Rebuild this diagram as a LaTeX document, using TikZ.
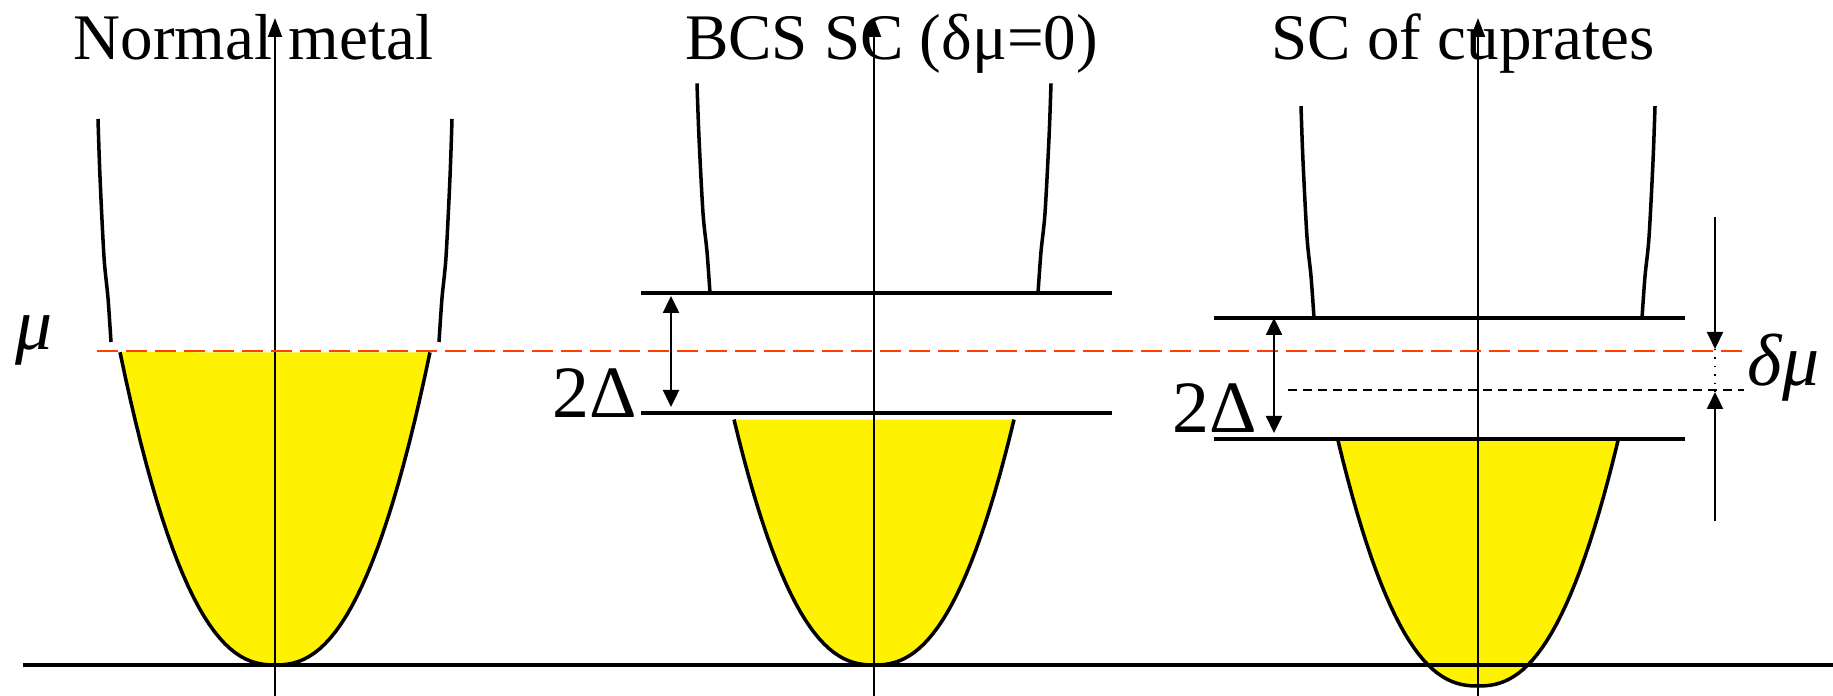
\documentclass[tikz,border=0pt]{standalone}
\usepackage{fontspec}
\setmainfont{Liberation Serif}
\usetikzlibrary{arrows.meta}
\definecolor{mured}{RGB}{255,64,0}
\tikzset{
  band/.style={line width=1pt},
  level/.style={line width=1pt},
  axis/.style={line width=0.6pt,-{Triangle[length=1.9mm,width=1.4mm]}},
  gaparrow/.style={line width=0.7pt,{Triangle[length=1.7mm,width=1.6mm]}-{Triangle[length=1.7mm,width=1.6mm]}},
  shiftarrow/.style={line width=0.6pt,-{Triangle[length=1.7mm,width=1.6mm]}},
  title/.style={font=\fontsize{18.5}{20}\selectfont,anchor=base,inner sep=0pt},
  lbl/.style={font=\fontsize{21}{24}\selectfont,inner sep=0pt}
}
\begin{document}
\begin{tikzpicture}
  \useasboundingbox (0,0) rectangle (18.33,6.96);
  \foreach \cx/\yb/\w in {2.75/0.31/1.55, 8.74/0.31/1.40, 14.78/0.10/1.40} {
    \fill[yellow,shift={(\cx,\yb)}] plot[domain=-\w:\w,samples=60] (\x,{(abs(\x)/0.96)^2.381}) -- cycle;
    \draw[band,shift={(\cx,\yb)}] plot[domain=-\w:\w,samples=60] (\x,{(abs(\x)/0.96)^2.381});
  }
  \foreach \cx/\yb/\s in {2.75/3.54/1, 8.74/4.03/0.94, 14.78/3.78/0.95}
    \foreach \sd in {-1,1}
      \draw[band,shift={(\cx,\yb)},xscale=\sd,yscale=\s] plot[smooth] coordinates {(1.64,0) (1.67,0.44) (1.71,0.85) (1.75,1.65) (1.77,2.23)};

  \coordinate (base0) at (0.23,0.31);
  \coordinate (base1) at (18.33,0.31);
  \coordinate (n0) at (2.75,0);
  \coordinate (n1) at (2.75,6.78);
  \coordinate (b0) at (8.74,0);
  \coordinate (b1) at (8.74,6.78);
  \coordinate (c0) at (14.78,0);
  \coordinate (c1) at (14.78,6.78);
  \coordinate (mu0) at (0.97,3.45);
  \coordinate (mu1) at (17.44,3.45);
  \coordinate (bup0) at (6.41,4.03);
  \coordinate (bup1) at (11.12,4.03);
  \coordinate (blo0) at (6.41,2.83);
  \coordinate (blo1) at (11.12,2.83);
  \coordinate (cup0) at (12.14,3.78);
  \coordinate (cup1) at (16.85,3.78);
  \coordinate (clo0) at (12.14,2.57);
  \coordinate (clo1) at (16.85,2.57);
  \coordinate (cmid0) at (12.88,3.06);
  \coordinate (cmid1) at (17.44,3.06);
  \coordinate (bgapu) at (6.71,4.03);
  \coordinate (bgapl) at (6.71,2.83);
  \coordinate (cgapu) at (12.74,3.78);
  \coordinate (cgapl) at (12.74,2.57);
  \coordinate (dm0) at (17.15,4.79);
  \coordinate (dm1) at (17.15,3.47);
  \coordinate (dm2) at (17.15,3.04);
  \coordinate (dm3) at (17.15,1.75);

  \node[title] (tN) at (2.535,6.36) {Normal metal};
  \node[title] (tB) at (8.915,6.36) {BCS SC (δμ=0)};
  \node[title] (tC) at (14.63,6.36) {SC of cuprates};
  \node[lbl,anchor=base] (mu) at (0.34,3.46) {\textit{μ}};
  \node[lbl,anchor=base east] (gB) at (6.38,2.78) {2Δ};
  \node[lbl,anchor=base east] (gC) at (12.58,2.63) {2Δ};
  \node[lbl,anchor=base west] (dmu) at (17.47,3.10) {\textit{δμ}};

  \draw[line width=1pt] (base0) -- (base1);
  \draw[axis] (n0) -- (n1);
  \draw[axis] (b0) -- (b1);
  \draw[axis] (c0) -- (c1);
  \draw[mured,line width=0.6pt,dash pattern=on 0.21cm off 0.08cm] (mu0) -- (mu1);
  \draw[level] (bup0) -- (bup1) (blo0) -- (blo1);
  \draw[level] (cup0) -- (cup1) (clo0) -- (clo1);
  \draw[line width=0.8pt,dash pattern=on 0.09cm off 0.06cm] (cmid0) -- (cmid1);
  \draw[gaparrow,shorten <=0.3mm,shorten >=0.6mm] (bgapu) -- (bgapl);
  \draw[gaparrow,shorten >=0.6mm] (cgapu) -- (cgapl);
  \draw[shiftarrow] (dm0) -- (dm1);
  \draw[shiftarrow] (dm3) -- (dm2);
  \draw[line width=0.4pt,dotted] (dm1) -- (dm2);
\end{tikzpicture}
\end{document}
